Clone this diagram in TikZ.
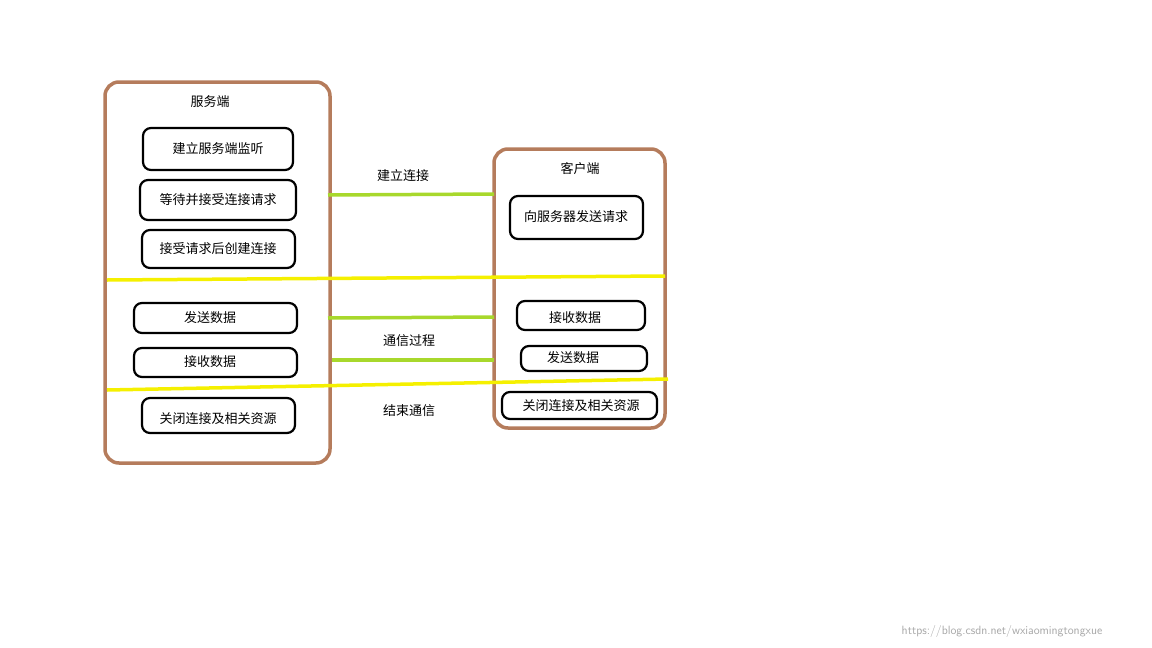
\documentclass[tikz,border=0pt]{standalone}
\usepackage{fontspec}
\newfontfamily\cjk{Noto Sans CJK SC}
\definecolor{brownc}{HTML}{B57C5C}
\definecolor{greenc}{HTML}{A8D82C}
\definecolor{yellowc}{HTML}{F5F000}
\begin{document}
\begin{tikzpicture}[x=1pt,y=-1pt,font=\cjk\fontsize{13}{15}\selectfont,
 frame/.style={draw=brownc,line width=3.5pt,rounded corners=14pt},
 item/.style={draw=black,line width=2.2pt,rounded corners=8pt},
 lbl/.style={inner sep=0pt},
 gline/.style={draw=greenc,line width=3.5pt},
 yline/.style={draw=yellowc,line width=3.5pt}]
\useasboundingbox (0,0) rectangle (1152,648);
\draw[frame] (105,82) rectangle (330,463);
\draw[frame] (494,149) rectangle (665,428);
\node[lbl] (st) at (210,102) {服务端};
\node[lbl] (ct) at (580,169) {客户端};
\draw[item] (143,128) rectangle (293,170); \node[lbl] (s1) at (218,149) {建立服务端监听};
\draw[item] (140,180) rectangle (296,220); \node[lbl] (s2) at (218,200) {等待并接受连接请求};
\draw[item] (142,230) rectangle (295,268); \node[lbl] (s3) at (218,249) {接受请求后创建连接};
\draw[item] (134,303) rectangle (297,333); \node[lbl] (s4) at (210,318) {发送数据};
\draw[item] (134,348) rectangle (297,377); \node[lbl] (s5) at (210,362) {接收数据};
\draw[item] (142,398) rectangle (295,433); \node[lbl] (s6) at (218,419) {关闭连接及相关资源};
\draw[item] (510,196) rectangle (643,239); \node[lbl] (c1) at (576,217) {向服务器发送请求};
\draw[item] (517,301) rectangle (645,330); \node[lbl] (c2) at (575,318) {接收数据};
\draw[item] (521,346) rectangle (647,371); \node[lbl] (c3) at (573,358) {发送数据};
\draw[item] (502,392) rectangle (657,419); \node[lbl] (c4) at (581,406) {关闭连接及相关资源};
\coordinate (a1) at (328,195); \coordinate (b1) at (494,194);
\coordinate (a2) at (328,318); \coordinate (b2) at (494,317);
\coordinate (a3) at (332,360); \coordinate (b3) at (494,360);
\draw[gline] (a1) -- (b1);
\draw[gline] (a2) -- (b2);
\draw[gline] (a3) -- (b3);
\coordinate (y1) at (107,280); \coordinate (y2) at (665,276);
\coordinate (y3) at (107,390); \coordinate (y4) at (668,379);
\draw[yline] (y1) -- (y2);
\draw[yline] (y3) -- (y4);
\node[lbl] (l1) at (403,176) {建立连接};
\node[lbl] (l2) at (409,341) {通信过程};
\node[lbl] (l3) at (409,411) {结束通信};
\node[lbl,text=black!35,font=\fontsize{12}{14}\selectfont\sffamily] (wm) at (1002,631) {https://blog.csdn.net/wxiaomingtongxue};
\end{tikzpicture}
\end{document}
